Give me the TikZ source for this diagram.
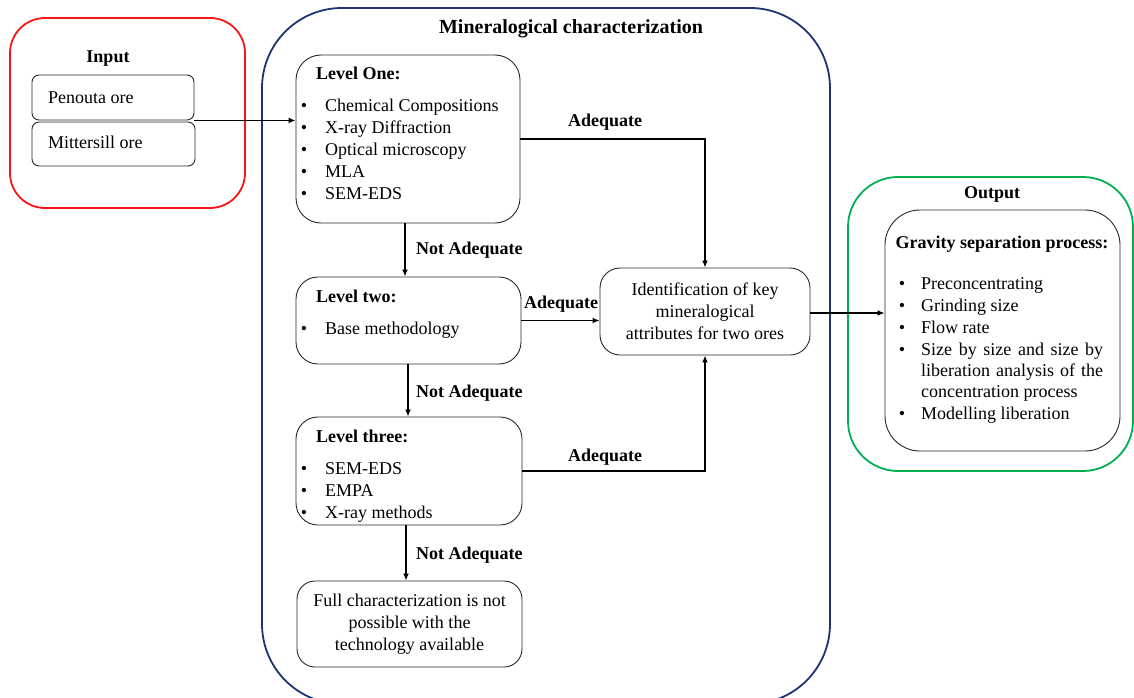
\documentclass[tikz,border=0pt]{standalone}
\usepackage{fontspec}
\setmainfont{Liberation Serif}
\usetikzlibrary{arrows.meta}
\definecolor{inred}{RGB}{250,20,20}
\definecolor{navy}{RGB}{28,52,112}
\definecolor{outgreen}{RGB}{0,176,80}
\definecolor{boxline}{RGB}{40,40,40}
\tikzset{
  box/.style={draw=boxline, line width=0.9pt, rounded corners=#1, inner sep=0pt},
  frame/.style={line width=1.8pt, rounded corners=#1, inner sep=0pt},
  txt/.style={anchor=base west, inner sep=0pt},
  ctxt/.style={anchor=base, inner sep=0pt},
  bld/.style={font=\fontsize{18}{22}\selectfont\bfseries},
  arr/.style={-{Latex[length=7pt,width=6pt]}, line width=1.6pt}
}
\begin{document}
\begin{tikzpicture}[x=1pt,y=-1pt,font=\fontsize{18}{22}\selectfont]
\useasboundingbox (0,0) rectangle (1134,698);

% frames
\node[frame=35pt, draw=inred, minimum width=235pt, minimum height=190pt] (inframe) at (127.5,113) {};
\node[frame=80pt, draw=navy, minimum width=568pt, minimum height=696pt] (minframe) at (546,356) {};
\node[frame=50pt, draw=outgreen, minimum width=285pt, minimum height=294pt] (outframe) at (990.5,324) {};

% input
\node[ctxt, bld] (intitle) at (108,63) {Input};
\node[box=7pt, minimum width=162pt, minimum height=45pt] (pen) at (113,97.5) {};
\node[box=7pt, minimum width=163pt, minimum height=44pt] (mit) at (113.5,144) {};
\node[txt] (pent) at (48,103) {Penouta ore};
\node[txt] (mitt) at (48,148) {Mittersill ore};

% mineralogical title
\node[ctxt, font=\fontsize{20}{24}\selectfont\bfseries] (mintitle) at (571,34) {Mineralogical characterization};

% level one
\node[box=25pt, minimum width=224pt, minimum height=168pt] (l1) at (408,139) {};
\node[txt, bld] (l1t) at (316,80) {Level One:};
\foreach \t/\y in {Chemical Compositions/111, X-ray Diffraction/133, Optical microscopy/155, MLA/177, SEM-EDS/199}{
  \node[ctxt] at (304,\y) {•};
  \node[txt] at (325,\y) {\t};
}

% level two
\node[box=22pt, minimum width=225pt, minimum height=87pt] (l2) at (408.5,320.5) {};
\node[txt, bld] (l2t) at (316,302) {Level two:};
\node[ctxt] (l2b) at (304,334) {•};
\node[txt] (l2i) at (325,334) {Base methodology};

% level three
\node[box=22pt, minimum width=226pt, minimum height=108pt] (l3) at (409,471) {};
\node[txt, bld] (l3t) at (316,442) {Level three:};
\foreach \t/\y in {SEM-EDS/474, EMPA/496, X-ray methods/518}{
  \node[ctxt] at (304,\y) {•};
  \node[txt] at (325,\y) {\t};
}

% full characterization
\node[box=18pt, minimum width=225pt, minimum height=86pt, align=center] (full) at (409.5,624)
  {Full characterization is not\\possible with the\\technology available};

% identification
\node[box=20pt, minimum width=210pt, minimum height=87pt, align=center] (ident) at (705,311.5)
  {Identification of key\\mineralogical\\attributes for two ores};

% output
\node[ctxt, bld] (outtitle) at (992,198) {Output};
\node[box=35pt, minimum width=235pt, minimum height=241pt] (grav) at (1002.5,330.5) {};
\node[ctxt, bld] (gravt) at (1002,248) {Gravity separation process:};
\foreach \y in {289,311,333,355,419}{
  \node[ctxt] at (902,\y) {•};
}
\node[txt] (g1) at (921,289) {Preconcentrating};
\node[txt] (g2) at (921,311) {Grinding size};
\node[txt] (g3) at (921,333) {Flow rate};
\node[txt] (g4) at (921,355) {\makebox[182pt][s]{Size by size and size by}};
\node[txt] (g5) at (921,376) {\makebox[182pt][s]{liberation analysis of the}};
\node[txt] (g6) at (921,397) {concentration process};
\node[txt] (g7) at (921,419) {Modelling liberation};

% connectors
\draw[arr] (pen.south east) -- (pen.south east -| l1.west);
\draw[arr] (l1.east) -| (ident.north);
\draw[arr] (l2.east) -- (l2.east -| ident.west);
\draw[arr] (l3.east) -| (ident.south);
\draw[arr] (l1.south -| 405,0) -- (l2.north -| 405,0);
\draw[arr] (l2.south -| 408,0) -- (l3.north -| 408,0);
\draw[arr] (l3.south -| 406,0) -- (full.north -| 406,0);
\draw[arr] (ident.east |- 0,313) -- (grav.west |- 0,313);

% connector labels
\node[ctxt, bld] (a1) at (605,126) {Adequate};
\node[ctxt, bld] (a2) at (561,308) {Adequate};
\node[ctxt, bld] (a3) at (605,461) {Adequate};
\node[txt, bld] (n1) at (416,254) {Not Adequate};
\node[txt, bld] (n2) at (416,397) {Not Adequate};
\node[txt, bld] (n3) at (416,559) {Not Adequate};
\end{tikzpicture}
\end{document}
